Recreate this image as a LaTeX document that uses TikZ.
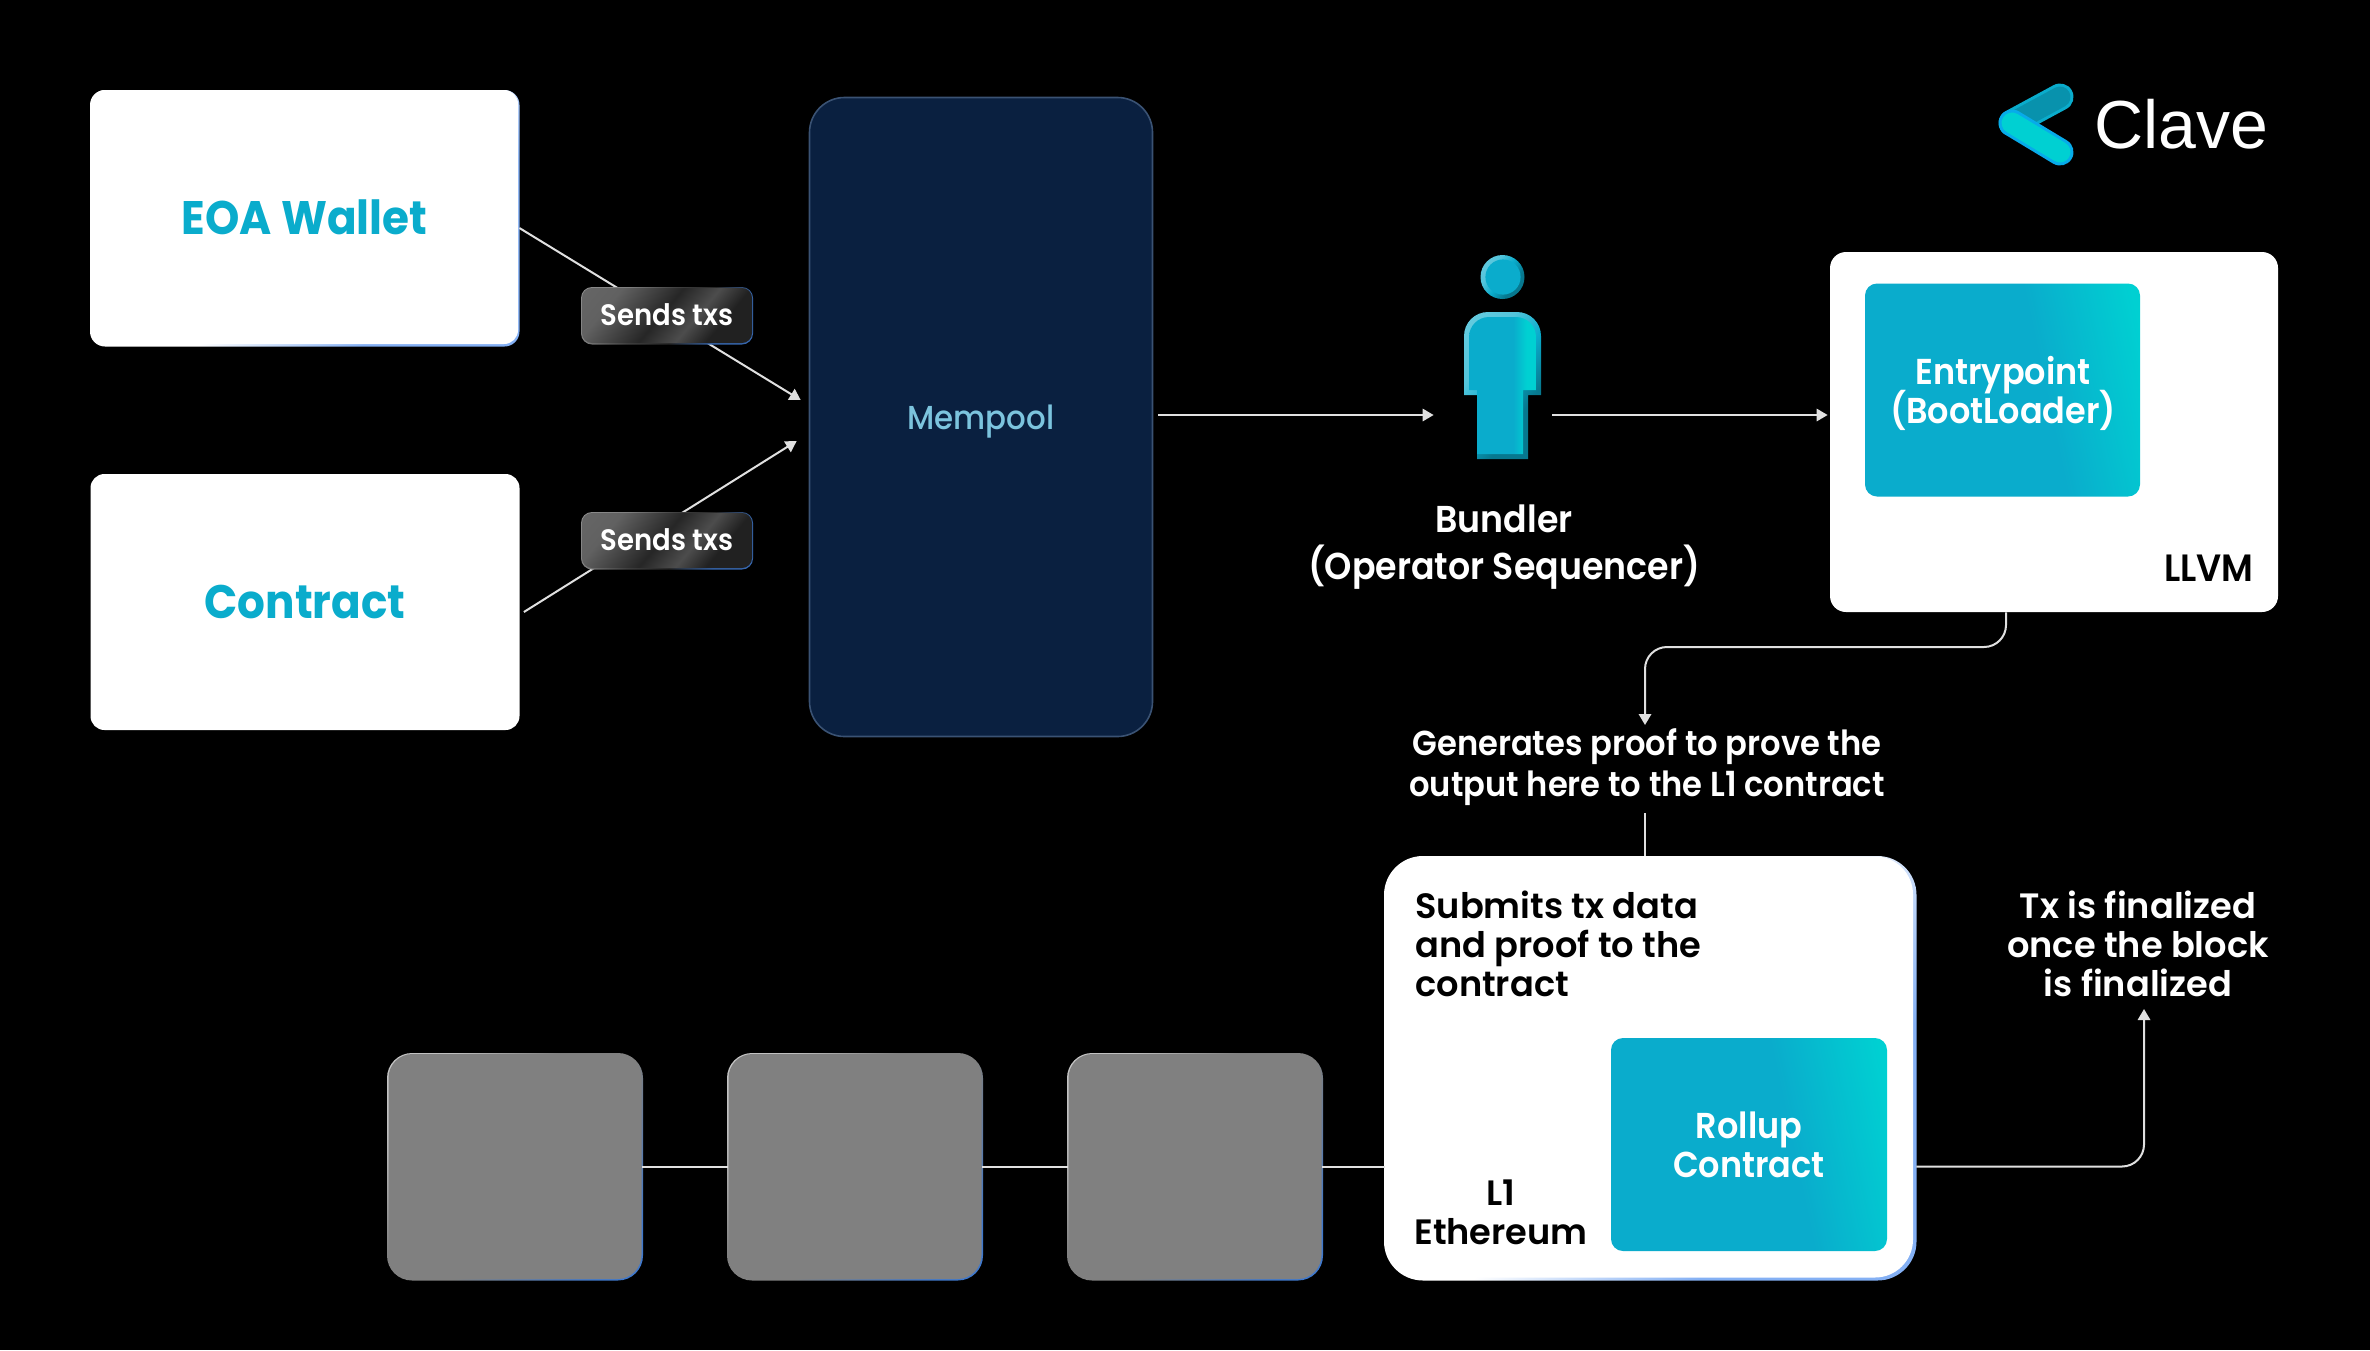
\documentclass[tikz,border=0pt]{standalone}
\usepackage{fontspec}
\setmainfont{Poppins}[UprightFont=* Medium,BoldFont=* SemiBold,FakeStretch=0.93]
\newfontfamily\heavyfont{Poppins}[UprightFont=* Bold,FakeStretch=0.93]
\newfontfamily\widefont{Poppins}[UprightFont=* SemiBold,FakeStretch=1.0]
\newfontfamily\clavefont{Liberation Sans}
\usetikzlibrary{arrows.meta,calc}
\definecolor{teal1}{HTML}{0AACCC}
\definecolor{teal2}{HTML}{00D0D2}
\definecolor{edgeblue}{HTML}{84B0F4}
\definecolor{deepblue}{HTML}{3F78CC}
\definecolor{mempoolfill}{HTML}{0A2040}
\definecolor{mempoolline}{HTML}{3A5273}
\definecolor{mempooltext}{HTML}{7CC4DE}
\definecolor{gblock}{HTML}{808080}
\pgfdeclarehorizontalshading{tealgrad}{100bp}{color(0bp)=(teal1);color(58bp)=(teal1);color(78bp)=(teal2);color(100bp)=(teal2)}
\pgfdeclarehorizontalshading{whiteblue}{100bp}{color(0bp)=(white);color(50bp)=(white);color(68bp)=(edgeblue);color(100bp)=(edgeblue)}
\pgfdeclarehorizontalshading{grayblue}{100bp}{color(0bp)=(white!80!black);color(25bp)=(white!75!black);color(42bp)=(gblock);color(55bp)=(gblock);color(78bp)=(deepblue);color(100bp)=(deepblue)}
\pgfdeclarehorizontalshading{glassedge}{100bp}{color(0bp)=(white!60!black);color(30bp)=(white!50!black);color(45bp)=(white!25!black);color(58bp)=(white!15!black);color(72bp)=(deepblue!85!black);color(100bp)=(deepblue!85!black)}
\pgfdeclarehorizontalshading{glass}{100bp}{color(0bp)=(white!42!black);color(28bp)=(white!38!black);color(48bp)=(white!15!black);color(60bp)=(white!30!black);color(70bp)=(white!13!black);color(100bp)=(white!13!black)}
\pgfdeclarehorizontalshading{personedge}{100bp}{color(0bp)=(white!45!teal1);color(35bp)=(white!30!teal1);color(50bp)=(teal1);color(65bp)=(teal1!70!black);color(100bp)=(teal1!70!black)}
\pgfdeclarehorizontalshading{persontorso}{100bp}{color(0bp)=(teal1);color(58bp)=(teal1);color(68bp)=(teal2);color(100bp)=(teal2)}
\tikzset{
  x=0.5pt,y=-0.5pt,
  conn/.style={draw=white!88!black,line width=1pt},
  arr/.style={conn,-{Triangle[length=5.5pt,width=6.2pt]}},
  whitecard/.style={fill=white,inner sep=0pt},
  title/.style={text=teal1,font=\heavyfont\fontsize{23.5}{27}\selectfont},
  lab/.style={text=white,align=center,inner sep=0pt,font=\widefont\fontsize{17.6}{19.5}\selectfont},
  darklab/.style={lab,text=black},
  biglab/.style={lab,font=\bfseries\fontsize{18.7}{23.5}\selectfont},
  tealbox/.style={shading=tealgrad,shading angle=12,rounded corners=6pt,inner sep=0pt,text=white,align=center,font=\bfseries\fontsize{18}{19.5}\selectfont},
  gloss/.style={shading=glass,shading angle=-40,rounded corners=5pt,inner sep=0pt,minimum width=85pt,minimum height=27.5pt},
  grayblock/.style={fill=gblock,rounded corners=12pt,inner sep=0pt,minimum width=126.5pt,minimum height=112.5pt},
}
% rim under a card: x1 y1 x2 y2 radius shading
\newcommand{\rimfill}[6]{\path[shading=#6,shading angle=-40,rounded corners=#5] (#1,#2) rectangle (#3,#4);}
\begin{document}
\begin{tikzpicture}
\lineskiplimit=-20pt
\useasboundingbox (0,0) rectangle (2370,1350);
\fill[black] (0,0) rectangle (2370,1350);

% logo
\coordinate (lgA) at (2012,123);
\coordinate (lgB) at (2060,97);
\coordinate (lgC) at (2060,152);
\draw[line cap=round,line width=13.5pt,color=teal1] (lgA) -- (lgB);
\draw[line cap=round,line width=10.5pt,color=teal1!85!black] (lgA) -- (lgB);
\draw[line cap=round,line width=13.5pt,color=cyan!85!teal2] (lgA) -- (lgC);
\draw[line cap=round,line width=10.5pt,color=teal2] (lgA) -- (lgC);
\node[text=white,inner sep=0pt,anchor=base west,font=\clavefont\fontsize{34}{40}\selectfont] (clave) at (2094,148) {Clave};

% cards
\rimfill{90}{90}{519.5}{346.5}{7.5pt}{whiteblue}
\node[whitecard,rounded corners=7pt,minimum width=213.5pt,minimum height=127pt,title] (eoa) at (304.5,217) {EOA Wallet};
\node[whitecard,rounded corners=7pt,minimum width=214.5pt,minimum height=128pt,title] (contract) at (305,602) {Contract};
\node[fill=mempoolfill,draw=mempoolline,line width=0.8pt,rounded corners=17.5pt,minimum width=171.5pt,minimum height=319.5pt,inner sep=0pt] (mempool) at (981,417) {};
\node[inner sep=0pt,text=mempooltext,font=\fontsize{16.6}{19}\selectfont] (mempoollab) at (981,422) {Mempool};

% connectors behind the glass labels
\draw[arr] ([xshift=0.5pt,yshift=-5.5pt]eoa.east) -- ([xshift=-4pt,yshift=8.5pt]mempool.west);
\draw[arr] ([xshift=2pt,yshift=-5pt]contract.east) -- ([xshift=-6pt,yshift=-12pt]mempool.west);
\path[shading=glassedge,shading angle=-40,rounded corners=5.5pt] (581,287) rectangle (753,344.5);
\path[shading=glassedge,shading angle=-40,rounded corners=5.5pt] (581,512) rectangle (753,569.5);
\node[gloss] (sendsA) at (667,315.5) {};
\node[gloss] (sendsB) at (667,540.5) {};
\node[lab,font=\bfseries\fontsize{14.8}{16}\selectfont] (sendsAtxt) at (667,315) {Sends txs};
\node[lab,font=\bfseries\fontsize{14.8}{16}\selectfont] (sendsBtxt) at (667,540) {Sends txs};

% bundler figure
\node[inner sep=0pt,minimum width=38.5pt,minimum height=102pt] (bundler) at (1502.5,357) {};
\path[shading=personedge,shading angle=-35] (1502.5,277) circle[radius=11pt];
\fill[teal1] (1503,277) circle[radius=8.8pt];
\path[shading=personedge,shading angle=-35] [rounded corners=12pt] (1464,395) -- (1464,312) -- (1541,312) [sharp corners] -- (1541,395) -- (1528,395) -- (1528,459) -- (1477,459) -- (1477,395) -- cycle;
\path[shading=persontorso,shading angle=0] [rounded corners=10pt] (1469,390) -- (1469,317) -- (1536,317) [sharp corners] -- (1536,390) -- (1523,390) -- (1523,454) -- (1477,454) -- (1477,390) -- cycle;
\node[biglab] (bundlerlab) at (1504,547) {Bundler\\(Operator Sequencer)};

% LLVM
\node[whitecard,rounded corners=8pt,minimum width=224pt,minimum height=180pt] (llvm) at (2054,432) {};
\node[tealbox,minimum width=137.5pt,minimum height=106.5pt] (entry) at (2002.5,390) {};
\node[inner sep=0pt,text=white,align=center,font=\bfseries\fontsize{18}{19.5}\selectfont] (entrylab) at (2003,393) {Entrypoint\\(BootLoader)};
\node[darklab,anchor=base east,font=\bfseries\fontsize{19}{20}\selectfont] (llvmlab) at (2254,581) {LLVM};

\coordinate (flow) at (0,415);
\draw[arr] ([xshift=2.5pt]mempool.east |- flow) -- ([xshift=-15pt]bundler.west |- flow);
\draw[arr] ([xshift=5.5pt]bundler.east |- flow) -- ([xshift=-1pt]llvm.west |- flow);

% proof text
\node[lab,font=\bfseries\fontsize{17.3}{20.5}\selectfont] (gen) at (1647,767.5) {Generates proof to prove the\\output here to the L1 contract};
\coordinate (genin) at (1645,725);
\coordinate (genmid) at (1645,647);
\coordinate (genout) at (1645,813);
\draw[arr,rounded corners=11pt] ([xshift=-24pt]llvm.south) -- ([xshift=-24pt]llvm.south |- genmid) -- (genmid) -- (genin);

% L1 block
\rimfill{1384}{856}{1916.5}{1280.5}{19.5pt}{whiteblue}
\node[whitecard,rounded corners=19pt,minimum width=264pt,minimum height=210.5pt] (l1) at (1649,1067) {};
\draw[conn] (genout) -- (genout |- l1.north);
\node[darklab,align=left,anchor=north west] (submits) at (1415,890) {Submits tx data\\and proof to the\\contract};
\node[tealbox,minimum width=138pt,minimum height=106.5pt] (rollup) at (1749,1144.5) {Rollup\\Contract};
\node[darklab] (l1lab) at (1501,1212) {L1\\Ethereum};

% chain of blocks
\rimfill{387}{1053}{643}{1280.5}{12.5pt}{grayblue}
\rimfill{727}{1053}{983}{1280.5}{12.5pt}{grayblue}
\rimfill{1067}{1053}{1323}{1280.5}{12.5pt}{grayblue}
\node[grayblock] (blockA) at (515,1166.5) {};
\node[grayblock] (blockB) at (855,1166.5) {};
\node[grayblock] (blockC) at (1195,1166.5) {};
\draw[conn] (blockA.east) -- (blockB.west);
\draw[conn] (blockB.east) -- (blockC.west);
\draw[conn] (blockC.east) -- (blockC.east -| l1.west);

% finalized
\node[lab] (final) at (2138,944) {Tx is finalized\\once the block\\is finalized};
\coordinate (fintip) at (2144,1009);
\draw[arr,rounded corners=11pt] ([xshift=1.5pt]blockC.east -| l1.east) -- (fintip |- blockC.east) -- (fintip);
\end{tikzpicture}
\end{document}
